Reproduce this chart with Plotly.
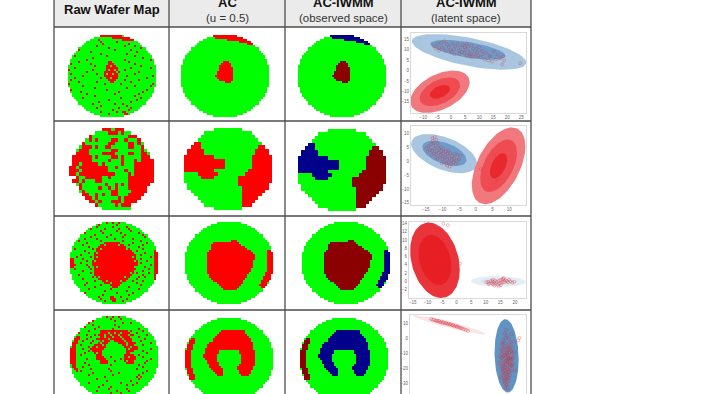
"""
Wafer map clustering table: raw maps, AC, AC-IWMM and latent space panels.
"""

import numpy as np
import plotly.graph_objects as go

# Table text
HEADER_TITLES = ["Raw Wafer Map", "AC", "AC-IWMM", "AC-IWMM"]
HEADER_NOTES = ["", "(u = 0.5)", "(observed space)", "(latent space)"]

# Die codes: 1 pass, 2 red cluster, 3 dark red cluster, 4 navy cluster
FINE_SHAPE = (41, 44)
COARSE_SHAPE = (24, 26)

# Clusters: (first row, [spans of that row, next row, ...]), in die indices
W1_CENTER = (13, [[(21, 23)], [(20, 24)], [(19, 24)], [(19, 25)], [(19, 25)], [(18, 25)],
                  [(18, 25)], [(17, 25)], [(18, 25)], [(19, 25)], [(22, 24)]])
W1_ARC = (0, [[(16, 27)], [(17, 31)], [(23, 34)], [(29, 35)], [(33, 35)]])

W2_LEFT = (4, [[(2, 4)], [(2, 4)], [(1, 5)], [(1, 5)], [(0, 8)], [(0, 11)], [(0, 11)],
               [(0, 11)], [(0, 8)], [(4, 9)], [(5, 8)]])
W2_RIGHT = (5, [[(22, 23)], [(21, 24)], [(21, 25)], [(20, 25)], [(20, 25)], [(20, 25)],
                [(20, 25)], [(19, 25)], [(18, 25)], [(16, 25)], [(16, 25)], [(16, 25)],
                [(17, 25)], [(17, 24)], [(17, 24)], [(17, 23)], [(17, 22)], [(17, 20)],
                [(17, 18)]])

W3_CENTER = (9, [[(23, 25)], [(14, 26)], [(13, 27)], [(13, 29)], [(13, 30)], [(12, 32)],
                 [(11, 33)], [(11, 34)], [(11, 34)], [(11, 34)], [(11, 33)], [(11, 33)],
                 [(11, 33)], [(11, 33)], [(11, 32)], [(11, 32)], [(11, 31)], [(12, 30)],
                 [(12, 30)], [(13, 29)], [(14, 28)], [(16, 28)], [(17, 27)], [(18, 26)],
                 [(19, 25)]])
W3_ARC = (14, [[(41, 43)]] * 11 + [[(40, 43)], [(40, 43)], [(39, 42)], [(39, 42)],
                                   [(38, 41)], [(38, 40)], [(37, 40)], [(38, 39)]])

W4_ARCH = (6, [[(18, 29)], [(17, 29)], [(16, 30)], [(15, 31)], [(14, 32)], [(14, 32)],
               [(12, 33)], [(11, 33)], [(11, 33)], [(10, 33)], [(10, 16), (27, 34)],
               [(10, 16), (27, 34)], [(9, 15), (28, 34)], [(9, 15), (28, 34)],
               [(10, 15), (28, 34)], [(11, 15), (28, 34)], [(11, 16), (28, 34)],
               [(12, 16), (27, 34)], [(12, 17), (26, 33)], [(13, 18), (26, 33)],
               [(14, 18), (27, 32)], [(15, 18), (27, 32)], [(16, 18), (28, 31)]])
W4_ARC = (10, [[(3, 4)], [(2, 4)], [(2, 4)], [(1, 3)], [(1, 3)], [(1, 3)]] + [[(0, 2)]] * 9
          + [[(1, 3)], [(1, 3)], [(1, 3)], [(2, 4)], [(2, 4)], [(2, 4)]])

# Raw maps: the same kind of spans, then single failing dies as (row, [columns])
RAW1_SPANS = (0, [[(16, 26)], [(22, 31)], [(28, 33)]])
RAW1_CORE = (13, [[(20, 21)], [(20, 22)], [(19, 23)], [(19, 24)], [(19, 24)], [(18, 25)],
                  [(18, 24)], [(18, 24)], [(19, 24)], [(20, 23)], [(21, 22)]])
RAW1_HOLES = [(15, [21]), (17, [20, 23]), (19, [19, 22]), (21, [21]), (18, [24])]
RAW1_DIES = [
    (2, [15, 27]), (3, [16, 24]), (4, [17, 30]), (5, [14, 28, 33]), (6, [20, 36]),
    (7, [5, 23, 31]), (8, [11, 34]), (9, [16, 29]), (10, [3, 19, 33]), (11, [12, 37]),
    (12, [9, 28, 41]), (13, [5, 30]), (14, [1, 11, 33]), (15, [13, 36]), (16, [3, 31, 41]),
    (17, [0, 12, 28]), (18, [9, 35]), (19, [1, 14, 33]), (20, [7, 29, 42]), (21, [3, 16, 39]),
    (22, [1, 28, 35]), (23, [5, 14, 31]), (24, [0, 18, 26, 42]), (25, [7, 33, 41]),
    (26, [13, 29]), (27, [1, 19, 39]), (28, [6, 25, 37]), (29, [9, 23, 35]), (30, [13, 33]),
    (31, [7, 26, 36]), (32, [20, 34]), (33, [15, 31]), (34, [12, 23, 27]), (35, [16, 29]),
    (36, [14, 25, 31]), (37, [22, 30]), (38, [16, 24, 27, 28]), (39, [20, 28, 29]),
]

RAW2_MAP = [
    "          ###.###         ",
    "        ....###.#..       ",
    "      #...........###     ",
    "     .#.#....##..#...#    ",
    "    #.......##....##.#.   ",
    "   .###.#..##.....##..#   ",
    "  .###.......##.......#.  ",
    "  ####....####....##..##. ",
    " ######.#....##.#.....### ",
    " ######.....#...#...#.####",
    " ##.#####.#.....#...######",
    "##.#########..#.....######",
    "###.########.....#..######",
    "##.###########....#.######",
    "  #..#####..#.....########",
    " ##.#...##........########",
    "  .#.......#..#.#.#######  ",
    "   #.....#..#.#...######",
    "   .#........##....#####",
    "    ##..#.#..##...#####  ",
    "     ##.#......#.#####   ",
    "      ##.#...###.####    ",
    "        #.....#.###      ",
    "          .........      ",
]

RAW3_CORE = (10, [[(17, 24)], [(15, 26)], [(14, 27)], [(13, 29)], [(13, 30)], [(12, 31)],
                  [(12, 32)], [(12, 32)], [(12, 32)], [(11, 33)], [(11, 33)], [(11, 33)],
                  [(12, 32)], [(12, 32)], [(12, 31)], [(12, 31)], [(12, 30)], [(13, 29)],
                  [(14, 28)], [(16, 27)], [(17, 25)], [(20, 24)], [(21, 23)]])
RAW3_RIM = (14, [[(42, 43)]] * 17)
RAW3_LEFT = (18, [[(0, 1)]] * 5)
RAW3_BOTTOM = (37, [[(20, 21)], [(20, 22)], [(21, 22)]])
RAW3_HOLES = [(11, [17, 24]), (13, [15, 28]), (15, [13]), (17, [13, 31]), (19, [12, 32]),
              (22, [32, 13]), (25, [30]), (27, [14, 27]), (29, [18, 25]), (30, [20])]
RAW3_DIES = [
    (0, [18, 21, 24]), (1, [14, 23]), (2, [13, 21, 28]), (3, [10, 17, 24, 29]),
    (4, [15, 23, 30]), (5, [7, 16, 25, 34]), (6, [12, 20, 27, 36]), (7, [10, 18, 26, 37]),
    (8, [7, 13, 22, 31]), (9, [4, 15, 26, 35]), (10, [8, 31, 38]), (11, [6, 29, 36]),
    (12, [9, 34]), (13, [2, 11, 36]), (14, [7, 33]), (15, [9, 37]), (16, [5, 35]),
    (17, [3, 10, 40]), (18, [6, 35]), (19, [8, 38]), (20, [5, 35]), (21, [2, 8, 40]),
    (22, [9, 37]), (23, [2, 10, 39]), (24, [6, 36]), (25, [10, 33, 39]), (26, [4, 36]),
    (27, [11, 34, 37]), (28, [6, 33]), (29, [12, 31, 36]), (30, [8, 33]), (31, [7, 15, 35]),
    (32, [12, 29]), (33, [9, 20, 34]), (34, [17, 28]), (35, [7, 23, 31]), (36, [16, 29]),
    (37, [14, 25]), (38, [15, 28]), (39, [17, 26]),
]

RAW4_ARCH = (7, [[(15, 28)], [(15, 18), (20, 29)], [(14, 16), (18, 28), (30, 31)],
                 [(15, 16), (18, 29)], [(14, 30)], [(15, 19), (22, 30)], [(14, 18), (24, 32)],
                 [(12, 17), (26, 31)], [(11, 17), (27, 32)], [(10, 16), (28, 33)],
                 [(11, 15), (28, 31)], [(12, 15), (28, 30)], [(13, 15), (27, 31)],
                 [(13, 16), (27, 32)], [(13, 17), (27, 32)], [(14, 18), (27, 31)],
                 [(15, 18), (28, 31)]])
RAW4_LEFT = (10, [[(3, 4)], [(2, 4)], [(2, 3)], [(1, 3)], [(1, 2)], [(1, 2)]] + [[(0, 2)]] * 8
             + [[(1, 2)], [(1, 2)], [(2, 3)], [(3, 3)]])
RAW4_HOLES = [(10, [21, 25]), (12, [16, 27]), (14, [16, 28]), (16, [29]), (18, [13, 30]),
              (20, [12, 29]), (22, [14, 28]), (8, [22, 25]), (9, [20, 24]), (11, [19, 26]),
              (13, [15, 28]), (15, [13, 30])]
RAW4_DIES = [
    (0, [18, 21, 24]), (1, [20, 25]), (2, [11, 22]), (3, [9, 26, 30]), (4, [11, 22]),
    (5, [7, 14, 24]), (6, [12, 21, 34]), (7, [9, 30, 36]), (8, [4, 33]), (9, [8, 12, 38]),
    (10, [10, 34]), (11, [8, 13, 37]), (12, [6, 11, 35]), (13, [10, 40]), (14, [5, 36]),
    (15, [9, 33]), (16, [6, 40]), (17, [9, 36]), (18, [7, 38]), (19, [5, 34]), (20, [20, 36]),
    (21, [8, 25, 40]), (22, [22, 38]), (23, [7, 37]), (24, [9, 20, 34]), (25, [6, 36]),
    (26, [10, 19, 33]), (27, [5, 20, 38]), (28, [11, 24, 36]), (29, [9, 21, 34]),
    (30, [17, 33, 35]), (31, [13, 34]), (32, [18, 30]), (33, [9, 25, 33]), (34, [16, 28, 31]),
    (35, [14, 20]), (36, [19, 28]), (37, [13, 23, 29]), (38, [20, 25]),
]

# Latent panels: ellipses as (x mean, y mean, x half extent, y half extent, correlation)
LAT1_ELLIPSES = [(6.4, 9.0, 20.4, 8.6, -0.6), (6.0, 10.0, 13.4, 4.8, -0.6),
                 (-4.0, -10.2, 10.6, 10.2, 0.45), (-4.0, -10.2, 7.2, 6.9, 0.45),
                 (-4.0, -10.2, 3.6, 3.3, 0.45)]
LAT1_COLORS = ["#a9c6e1", "#6c9cc9", "#f1797e", "#ee4c52", "#e8282d"]
LAT1_X = [-5.5, -4.8, -4.2, -3.5, -3.0, -2.4, -1.5, -0.8, -0.3, 0.4, 1.0, 1.6, 2.3, 2.8, 3.3,
          3.8, 4.2, 4.7, 5.1, 5.5, 6.0, 6.4, 6.9, 7.3, 7.8, 8.2, 8.7, 9.1, 9.6, 10.0, 10.5,
          11.0, 11.4, 12.0, 12.6, 13.3, 14.0, 14.6, 15.2, 15.9, 16.6, 17.4, 18.2, 18.9, 24.6,
          -6.2, 0.2, 3.0, 5.6, 7.4, 18.5, -4.3, 1.2, 4.9, 9.4, 13.6, -2.1, 6.7]
LAT1_Y = [10.6, 12.8, 10.9, 13.4, 11.0, 14.2, 12.6, 11.4, 9.7, 12.9, 10.3, 11.7, 13.0, 9.6,
          11.2, 9.0, 12.5, 8.5, 10.2, 7.4, 11.6, 9.1, 7.9, 12.2, 10.4, 8.2, 6.8, 10.8, 7.2,
          11.3, 6.5, 9.5, 7.9, 5.4, 8.8, 4.9, 6.9, 4.3, 9.2, 5.4, 7.6, 6.0, 3.0, 4.9, 3.5,
          11.8, 8.9, 8.0, 13.0, 6.6, 6.9, 9.6, 7.9, 11.3, 9.0, 7.2, 9.6, 7.0]

LAT2_ELLIPSES = [(-9.5, 2.8, 9.85, 7.1, -0.5), (-9.4, 2.9, 6.6, 4.6, -0.5),
                 (6.8, -1.6, 8.0, 13.9, 0.5), (6.8, -1.6, 5.5, 9.5, 0.5),
                 (6.8, -1.6, 2.6, 4.6, 0.5)]
LAT2_COLORS = ["#a9c6e1", "#6c9cc9", "#f1797e", "#ee4c52", "#e8282d"]
LAT2_X = [-13.0, -12.3, -12.9, -11.8, -14.8, -14.1, -13.4, -12.7, -12.0, -11.3, -10.6, -14.5,
          -13.7, -13.1, -12.4, -11.7, -11.0, -10.3, -9.7, -9.0, -8.3, -13.3, -12.5, -11.8,
          -11.1, -10.4, -9.8, -9.1, -8.4, -7.7, -7.0, -6.3, -5.5, -4.6, -12.1, -11.4, -10.7,
          -10.0, -9.3, -8.6, -7.9, -7.2, -6.5, -5.8, -5.1, -10.2, -9.5, -8.8, -8.1, -7.4,
          -6.7, -6.0, -8.6, -7.8, 1.5, 5.0, 9.0, 7.0, 6.2, 5.5]
LAT2_Y = [8.4, 8.8, 7.4, 7.7, 4.8, 5.5, 6.2, 6.6, 5.8, 6.4, 5.2, 3.4, 4.2, 3.8, 4.6, 3.9, 4.5,
          3.8, 4.4, 3.6, 4.0, 2.3, 2.9, 2.5, 3.1, 2.4, 2.9, 2.2, 2.7, 2.9, 1.9, 2.7, 2.4, 2.0,
          1.4, 0.9, 1.6, 0.8, 1.4, 0.7, 1.1, 0.5, 1.0, 0.4, 0.6, -0.7, -0.3, -0.9, -0.4, -1.0,
          -0.3, -0.9, -1.6, -1.9, -2.8, -5.0, 0.5, -3.0, -7.0, 2.0]

LAT3_ELLIPSES = [(-7.4, 5.1, 8.5, 9.1, -0.25), (-7.4, 5.2, 5.6, 6.05, -0.25),
                 (14.4, 0.0, 9.5, 1.3, -0.1), (14.4, 0.0, 6.3, 0.8, -0.1)]
LAT3_COLORS = ["#e8343a", "#e71f25", "#e6edf5", "#d8e4f0"]
LAT3_X = [-10.5, -4.5, -3.0, 1.2, 10.2, 10.8, 11.3, 11.7, 12.0, 12.3, 12.6, 12.9, 13.2, 13.5,
          13.8, 14.1, 14.4, 14.7, 15.0, 15.3, 15.6, 15.9, 16.2, 16.5, 16.8, 17.2, 17.6, 18.0,
          18.5, 19.1, 19.8, 13.0, 14.5, 15.2, 16.0, 12.4, 11.0]
LAT3_Y = [14.2, 13.9, 13.6, 4.3, -0.2, -0.1, -0.5, 0.1, -0.4, 0.0, -0.7, -0.2, 0.2, -0.5, -0.1,
          -0.8, 0.1, -0.5, 0.3, -0.3, 0.5, -0.2, 0.8, -0.1, 0.3, 0.1, -0.2, 0.4, 0.0, -0.3,
          -0.1, -1.0, -1.2, -0.9, 0.6, 0.4, -0.6]

LAT4_ELLIPSES = [(37.3, -11.5, 8.2, 24.7, -0.1), (-1.6, 9.4, 24.7, 6.5, -0.95),
                 (-1.6, 9.4, 14.2, 3.7, -0.95)]
LAT4_COLORS = ["#5f93c3", "#fbe4e5", "#f7c4c7"]
LAT4_X = [-14.0, -13.0, -12.0, -11.0, -10.2, -9.4, -8.6, -7.8, -7.0, -6.2, -5.4, -4.6, -3.8,
          -3.0, -2.2, -1.4, -0.6, 0.2, 1.0, 1.8, 2.6, 3.4, 4.2, 5.0, 6.0, 7.0, 8.2, 9.5, 11.0,
          33.0, 34.5, 36.0, 37.5, 39.0, 40.5, 42.0, 33.5, 35.0, 36.5, 38.0, 39.5, 41.0, 42.5,
          34.0, 35.5, 37.0, 38.5, 40.0, 41.5, 33.2, 34.8, 36.3, 37.8, 39.3, 40.8, 34.2, 35.7,
          37.2, 38.7, 40.2, 41.7, 33.6, 35.1, 36.6, 38.1, 39.6, 41.1, 34.5, 36.0, 37.5, 39.0,
          40.5, 35.0, 36.5, 38.0, 39.5, 35.5, 37.0, 38.5, 36.0, 37.5, 39.0, 36.5, 38.0, 37.0,
          37.5, 36.5, 38.5, 35.5, 39.5, 46.0, 45.2, 32.0, 33.4, 42.8,
          34.4, 35.9, 37.4, 38.9, 40.4, 34.0, 35.4, 36.9, 38.4, 39.9, 41.4, 33.9, 35.2, 36.7,
          38.2, 39.7, 41.2, 34.7, 36.2, 37.7, 39.2, 40.7, 35.2, 36.7, 38.2, 39.7, 35.7, 37.2,
          38.7, 36.2, 37.7, 36.7, 38.2, 37.2]
LAT4_Y = [13.4, 12.9, 12.8, 12.2, 12.3, 11.8, 12.1, 11.2, 11.6, 10.9, 11.1, 10.5, 10.8, 10.0,
          10.3, 9.6, 9.9, 9.1, 9.2, 8.5, 8.9, 8.0, 8.3, 7.6, 7.2, 7.0, 6.4, 5.8, 5.2,
          -12.0, -4.0, 3.5, 2.0, 0.0, 3.0, -2.0, -7.0, -1.0, -3.0, -5.0, -2.5, -6.0, -9.0,
          -10.0, -6.5, -8.0, -7.2, -4.5, -12.5, -15.0, -12.5, -11.0, -10.0, -9.5, -14.0, -18.0,
          -15.5, -14.0, -13.0, -12.0, -16.5, -20.0, -18.5, -17.0, -16.0, -15.0, -18.5, -23.0,
          -21.0, -20.0, -19.0, -21.5, -25.0, -24.0, -22.5, -24.5, -28.0, -27.0, -26.0, -30.0,
          -31.0, -28.5, -33.0, -33.5, 6.0, -11.0, 0.5, -13.5, -9.0, -7.5, 0.6, -1.2, -17.0,
          -26.0, -21.0,
          -3.0, -5.5, -9.5, -6.0, -8.5, -8.0, -11.5, -12.5, -11.5, -13.5, -9.5, -13.0, -17.0,
          -15.0, -14.5, -17.5, -13.5, -20.5, -19.5, -17.5, -16.5, -18.0, -22.0, -23.0, -20.5,
          -21.5, -26.5, -25.0, -22.5, -28.0, -24.0, -29.5, -27.0, -31.5]

# Layout in page pixels
WIDTH, HEIGHT = 718, 394
COL_EDGES = [54, 169, 285, 401, 531]
ROW_EDGES = [27, 121, 216, 310]
HEADER_FILL = "#ebebeb"
GRID_COLOR = "#4d4d4d"
DIE_COLORS = [[0.0, "#ffffff"], [0.25, "#ffffff"], [0.25, "#00ff00"], [0.5, "#00ff00"],
              [0.5, "#ff0000"], [0.75, "#ff0000"], [0.75, "#8b0000"], [0.85, "#8b0000"],
              [0.85, "#00008b"], [1.0, "#00008b"]]


def wafer_mask(shape):
    rows, cols = shape
    r = (np.arange(rows) + 0.5 - rows / 2) / (rows / 2)
    c = (np.arange(cols) + 0.5 - cols / 2) / (cols / 2)
    return (r[:, None] ** 2 + c[None, :] ** 2) <= 1.03


def paint(z, cluster, code):
    first, rows = cluster
    for i, spans in enumerate(rows):
        for start, end in spans:
            z[first + i, start : end + 1] = code


def wafer(shape, clusters, holes=(), dies=()):
    z = np.full(shape, 1.0)
    for cluster, code in clusters:
        paint(z, cluster, code)
    for row, cols in holes:
        z[row, cols] = 1
    for row, cols in dies:
        z[row, cols] = 2
    z[~wafer_mask(shape)] = np.nan
    return z


def wafer_from_rows(rows):
    width = max(len(row) for row in rows)
    code = {" ": np.nan, ".": 1.0, "#": 2.0}
    return np.array([[code[c] for c in row.ljust(width)] for row in rows])


def ellipse_outline(cx, cy, hx, hy, rho):
    t = np.linspace(0, 2 * np.pi, 90)
    return cx + hx * np.cos(t), cy + hy * (rho * np.cos(t) + np.sqrt(1 - rho**2) * np.sin(t))


# (left edge, top edge, map)
wafers = [
    (68, 35, wafer(FINE_SHAPE, [(RAW1_SPANS, 2), (RAW1_CORE, 2)], RAW1_HOLES, RAW1_DIES)),
    (181, 35, wafer(FINE_SHAPE, [(W1_CENTER, 2), (W1_ARC, 2)])),
    (298, 35, wafer(FINE_SHAPE, [(W1_CENTER, 3), (W1_ARC, 4)])),
    (69, 128, wafer_from_rows(RAW2_MAP)),
    (184, 128, wafer(COARSE_SHAPE, [(W2_LEFT, 2), (W2_RIGHT, 2)])),
    (298, 129, wafer(COARSE_SHAPE, [(W2_LEFT, 4), (W2_RIGHT, 3)])),
    (70, 222, wafer(FINE_SHAPE, [(RAW3_CORE, 2), (RAW3_RIM, 2), (RAW3_LEFT, 2), (RAW3_BOTTOM, 2)],
                    RAW3_HOLES, RAW3_DIES)),
    (185, 222, wafer(FINE_SHAPE, [(W3_CENTER, 2), (W3_ARC, 2)])),
    (302, 222, wafer(FINE_SHAPE, [(W3_CENTER, 3), (W3_ARC, 4)])),
    (70, 316, wafer(FINE_SHAPE, [(RAW4_ARCH, 2), (RAW4_LEFT, 2)], RAW4_HOLES, RAW4_DIES)),
    (185, 318, wafer(FINE_SHAPE, [(W4_ARCH, 2), (W4_ARC, 2)])),
    (300, 318, wafer(FINE_SHAPE, [(W4_ARCH, 4), (W4_ARC, 3)])),
]

fig = go.Figure()

for left, top, z in wafers:
    rows, cols = z.shape
    dx, dy = 87.5 / cols, 82.0 / rows
    fig.add_trace(
        go.Heatmap(
            z=z,
            x0=left + dx / 2,
            dx=dx,
            y0=top + dy / 2,
            dy=dy,
            zmin=0,
            zmax=4,
            colorscale=DIE_COLORS,
            showscale=False,
            hoverinfo="skip",
        )
    )

# Latent panels: frame box in pixels, axis range, tick values
panels = [
    {"box": (411, 33, 526, 113), "xr": [-14.3, 26.7], "yr": [-20.4, 18.1],
     "xt": [-10, -5, 0, 5, 10, 15, 20, 25], "yt": [-15, -10, -5, 0, 5, 10, 15],
     "ell": LAT1_ELLIPSES, "col": LAT1_COLORS, "px": LAT1_X, "py": LAT1_Y},
    {"box": (411, 126, 526, 205), "xr": [-19.4, 15.0], "yr": [-15.8, 12.8],
     "xt": [-15, -10, -5, 0, 5, 10], "yt": [-15, -10, -5, 0, 5, 10],
     "ell": LAT2_ELLIPSES, "col": LAT2_COLORS, "px": LAT2_X, "py": LAT2_Y},
    {"box": (409, 222, 526, 298), "xr": [-16.3, 23.8], "yr": [-4.0, 14.35],
     "xt": [-15, -10, -5, 0, 5, 10, 15, 20], "yt": [-2, 0, 2, 4, 6, 8, 10, 12, 14],
     "ell": LAT3_ELLIPSES, "col": LAT3_COLORS, "px": LAT3_X, "py": LAT3_Y},
    {"box": (410, 315, 526, 394), "xr": [-28.4, 50.5], "yr": [-37.2, 16.0],
     "xt": [], "yt": [-30, -20, -10, 0, 10],
     "ell": LAT4_ELLIPSES, "col": LAT4_COLORS, "px": LAT4_X, "py": LAT4_Y},
]

layout_axes = {}
for n, panel in enumerate(panels, start=2):
    x0, y0, x1, y1 = panel["box"]
    layout_axes[f"xaxis{n}"] = {
        "domain": [x0 / WIDTH, x1 / WIDTH],
        "range": panel["xr"],
        "anchor": f"y{n}",
        "tickvals": panel["xt"],
        "tickfont": {"size": 4.5, "color": "#666666", "family": "Liberation Sans"},
        "showgrid": False,
        "zeroline": False,
        "showline": True,
        "mirror": True,
        "linecolor": "#d9d9d9",
        "linewidth": 1,
        "ticks": "",
        "ticklen": 0,
    }
    layout_axes[f"yaxis{n}"] = {
        "domain": [1 - y1 / HEIGHT, 1 - y0 / HEIGHT],
        "range": panel["yr"],
        "anchor": f"x{n}",
        "tickvals": panel["yt"],
        "tickfont": {"size": 4.5, "color": "#666666", "family": "Liberation Sans"},
        "showgrid": False,
        "zeroline": False,
        "showline": True,
        "mirror": True,
        "linecolor": "#d9d9d9",
        "linewidth": 1,
        "ticks": "",
        "ticklen": 0,
    }
    for (cx, cy, hx, hy, rho), color in zip(panel["ell"], panel["col"]):
        ex, ey = ellipse_outline(cx, cy, hx, hy, rho)
        fig.add_trace(
            go.Scatter(
                x=ex, y=ey, xaxis=f"x{n}", yaxis=f"y{n}", mode="lines", fill="toself",
                fillcolor=color, line={"width": 0}, showlegend=False, hoverinfo="skip",
            )
        )
    fig.add_trace(
        go.Scatter(
            x=panel["px"], y=panel["py"], xaxis=f"x{n}", yaxis=f"y{n}", mode="markers",
            marker={"symbol": "circle-open", "size": 3, "color": "rgba(215, 50, 60, 0.55)",
                    "line": {"width": 0.6}},
            showlegend=False, hoverinfo="skip",
        )
    )

# Header band and table rules
shapes = [
    {"type": "rect", "x0": COL_EDGES[0], "x1": COL_EDGES[-1], "y0": 0, "y1": ROW_EDGES[0],
     "fillcolor": HEADER_FILL, "line": {"width": 0}, "layer": "below"}
]
for x in COL_EDGES:
    shapes.append({"type": "line", "x0": x, "x1": x, "y0": 0, "y1": HEIGHT,
                   "line": {"color": GRID_COLOR, "width": 1.3}})
for y in ROW_EDGES:
    shapes.append({"type": "line", "x0": COL_EDGES[0], "x1": COL_EDGES[-1], "y0": y, "y1": y,
                   "line": {"color": GRID_COLOR, "width": 1.3}})

annotations = []
for i, (title, note) in enumerate(zip(HEADER_TITLES, HEADER_NOTES)):
    center = (COL_EDGES[i] + COL_EDGES[i + 1]) / 2
    annotations.append(
        {"x": center, "y": 9.5 if not note else 2, "xref": "x", "yref": "y",
         "text": f"<b>{title}</b>", "showarrow": False,
         "font": {"size": 13, "color": "#111111", "family": "Liberation Sans"}}
    )
    if note:
        annotations.append(
            {"x": center, "y": 18, "xref": "x", "yref": "y", "text": note, "showarrow": False,
             "font": {"size": 11.5, "color": "#333333", "family": "Liberation Sans"}}
        )

fig.update_layout(
    width=WIDTH,
    height=HEIGHT,
    margin={"l": 0, "r": 0, "t": 0, "b": 0},
    paper_bgcolor="white",
    plot_bgcolor="rgba(0,0,0,0)",
    xaxis={"range": [0, WIDTH], "visible": False, "domain": [0, 1], "anchor": "y"},
    yaxis={"range": [HEIGHT, 0], "visible": False, "domain": [0, 1], "anchor": "x"},
    shapes=shapes,
    annotations=annotations,
    showlegend=False,
    **layout_axes,
)

# Page margin would push the table off its place
fig.write_html(
    "out.html",
    config={"displayModeBar": False},
    post_script="document.body.style.margin = '0'; document.body.style.overflow = 'hidden';",
)
